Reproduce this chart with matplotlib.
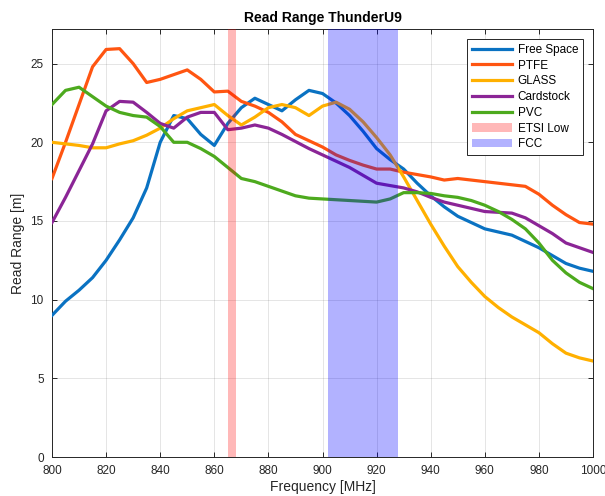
import matplotlib
matplotlib.use("Agg")
import matplotlib.pyplot as plt
from matplotlib.patches import Patch
from matplotlib.lines import Line2D
import numpy as np

plt.rcParams['font.family'] = ['Liberation Sans', 'DejaVu Sans']

freq = list(range(800, 1001, 5))

free_space = [9.0, 9.9, 10.6, 11.4, 12.5, 13.8, 15.2, 17.1, 20.0, 21.7,
              21.5, 20.5, 19.8, 21.2, 22.2, 22.8, 22.4, 22.0, 22.7, 23.3,
              23.1, 22.5, 21.7, 20.7, 19.6, 18.9, 18.3, 17.4, 16.6, 15.9,
              15.3, 14.9, 14.5, 14.3, 14.1, 13.7, 13.3, 12.8, 12.3, 12.0, 11.8]
ptfe = [17.7, 20.0, 22.4, 24.8, 25.9, 25.95, 25.0, 23.8, 24.0, 24.3,
        24.6, 24.0, 23.2, 23.25, 22.6, 22.3, 21.9, 21.3, 20.5, 20.1,
        19.7, 19.2, 18.85, 18.55, 18.3, 18.3, 18.1, 17.95, 17.8, 17.6,
        17.7, 17.6, 17.5, 17.4, 17.3, 17.2, 16.7, 16.0, 15.4, 14.9, 14.8]
glass = [20.0, 19.9, 19.8, 19.65, 19.65, 19.9, 20.1, 20.45, 20.9, 21.5,
         22.0, 22.2, 22.4, 21.7, 21.1, 21.6, 22.2, 22.4, 22.2, 21.7,
         22.3, 22.55, 22.1, 21.3, 20.3, 19.2, 17.8, 16.3, 14.8, 13.4,
         12.1, 11.1, 10.2, 9.5, 8.9, 8.4, 7.9, 7.2, 6.6, 6.3, 6.1]
cardstock = [14.9, 16.5, 18.2, 19.9, 22.0, 22.6, 22.55, 21.9, 21.2, 20.9,
             21.6, 21.9, 21.9, 20.8, 20.9, 21.1, 20.9, 20.5, 20.05, 19.6,
             19.2, 18.8, 18.4, 17.9, 17.4, 17.25, 17.1, 16.85, 16.5, 16.2,
             16.0, 15.8, 15.6, 15.55, 15.5, 15.2, 14.7, 14.2, 13.6, 13.3, 13.0]
pvc = [22.4, 23.3, 23.5, 22.9, 22.3, 21.9, 21.7, 21.6, 21.0, 20.0,
       20.0, 19.6, 19.1, 18.4, 17.7, 17.5, 17.2, 16.9, 16.6, 16.45,
       16.4, 16.35, 16.3, 16.25, 16.2, 16.4, 16.8, 16.8, 16.75, 16.6,
       16.5, 16.3, 16.0, 15.6, 15.1, 14.5, 13.6, 12.5, 11.7, 11.1, 10.7]

series_names = ["Free Space", "PTFE", "GLASS", "Cardstock", "PVC"]
series_values = [free_space, ptfe, glass, cardstock, pvc]
series_colors = ["#0A72C2", "#FF5511", "#FFB000", "#8B2596", "#4DAA1E"]

etsi_band = (865, 868)
fcc_band = (902, 928)
band_names = ["ETSI Low", "FCC"]

fig = plt.figure(figsize=(6.05, 4.96), dpi=100)
ax = fig.add_axes([52/605, 1-457/496, (593-52)/605, (457-29)/496])

for name, vals, col in zip(series_names, series_values, series_colors):
    ax.plot(freq, vals, color=col, lw=2.3, label=name, zorder=3)

ax.axvspan(*etsi_band, color=(1, 0, 0), alpha=0.28, lw=0, zorder=4)
ax.axvspan(*fcc_band, color=(0, 0, 1), alpha=0.3, lw=0, zorder=4)

ax.set_xlim(800, 1000)
ax.set_ylim(0, 27.2)
ax.set_xticks(range(800, 1001, 20))
ax.set_yticks(range(0, 26, 5))
ax.grid(True, color="#262626", alpha=0.12, lw=0.7)
ax.set_axisbelow(True)
ax.tick_params(direction="in", length=3.5, width=0.7, colors="#262626",
               labelsize=8.5, top=True, right=True)
ax.tick_params(axis="x", pad=6)
ax.tick_params(axis="y", pad=6)
for s in ax.spines.values():
    s.set_color("#262626")
    s.set_linewidth(0.7)

ax.set_title("Read Range ThunderU9", fontsize=10, fontweight="bold", pad=5)
ax.set_xlabel("Frequency [MHz]", fontsize=10, color="#262626", labelpad=2)
ax.set_ylabel("Read Range [m]", fontsize=10, color="#262626", labelpad=4)

handles = [Line2D([0], [0], color=c, lw=2.3) for c in series_colors]
handles += [Patch(facecolor=(1, 0, 0, 0.28), edgecolor="none"),
            Patch(facecolor=(0, 0, 1, 0.3), edgecolor="none")]
labels = series_names + band_names
leg = ax.legend(handles, labels, loc="upper right", fontsize=8.5,
                frameon=True, fancybox=False, edgecolor="#262626",
                framealpha=1, borderpad=0.4, labelspacing=0.32,
                handlelength=3.4, handletextpad=0.5, borderaxespad=0,
                bbox_to_anchor=(0.9815, 0.9766))
leg.get_frame().set_linewidth(0.7)

fig.savefig("out.png", dpi=100)
